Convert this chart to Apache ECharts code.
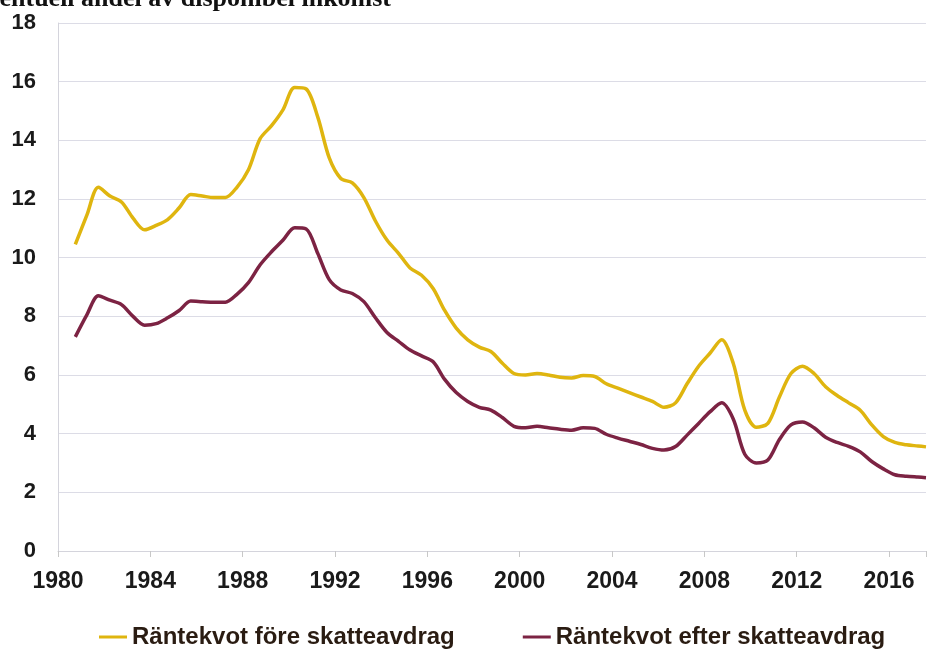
<!DOCTYPE html>
<html>
<head>
<meta charset="utf-8">
<title>Räntekvot</title>
<script src="https://cdn.jsdelivr.net/npm/echarts@6/dist/echarts.min.js"></script>
<style>
  html, body { margin: 0; padding: 0; background: #ffffff; }
  #chart { width: 929px; height: 649px; }
</style>
</head>
<body>
<div id="chart"></div>
<script>
// halvårsvärden
var years = [
  1980.75, 1981.25, 1981.75, 1982.25, 1982.75, 1983.25, 1983.75, 1984.25, 1984.75, 1985.25,
  1985.75, 1986.25, 1986.75, 1987.25, 1987.75, 1988.25, 1988.75, 1989.25, 1989.75, 1990.25,
  1990.75, 1991.25, 1991.75, 1992.25, 1992.75, 1993.25, 1993.75, 1994.25, 1994.75, 1995.25,
  1995.75, 1996.25, 1996.75, 1997.25, 1997.75, 1998.25, 1998.75, 1999.25, 1999.75, 2000.25,
  2000.75, 2001.25, 2001.75, 2002.25, 2002.75, 2003.25, 2003.75, 2004.25, 2004.75, 2005.25,
  2005.75, 2006.25, 2006.75, 2007.25, 2007.75, 2008.25, 2008.75, 2009.25, 2009.75, 2010.25,
  2010.75, 2011.25, 2011.75, 2012.25, 2012.75, 2013.25, 2013.75, 2014.25, 2014.75, 2015.25,
  2015.75, 2016.25, 2016.75, 2017.25, 2017.6
];
var foreSkatt = [
  10.45, 11.45, 12.4, 12.1, 11.9, 11.35, 10.95, 11.1, 11.3, 11.7,
  12.15, 12.1, 12.05, 12.05, 12.4, 13.0, 14.05, 14.5, 15.05, 15.8,
  15.75, 14.8, 13.4, 12.7, 12.55, 12.05, 11.25, 10.6, 10.15, 9.65,
  9.4, 8.95, 8.2, 7.6, 7.2, 6.95, 6.8, 6.4, 6.05, 6.0,
  6.05, 6.0, 5.92, 5.9, 5.98, 5.95, 5.7, 5.55, 5.4, 5.25,
  5.1, 4.9, 5.05, 5.7, 6.3, 6.75, 7.2, 6.4, 4.8, 4.22,
  4.35, 5.25, 6.05, 6.3, 6.05, 5.6, 5.3, 5.05, 4.8, 4.3,
  3.9, 3.7, 3.62, 3.58, 3.55
];
var efterSkatt = [
  7.3, 8.05, 8.7, 8.55, 8.4, 8.0, 7.7, 7.75, 7.95, 8.2,
  8.52, 8.5, 8.48, 8.48, 8.75, 9.15, 9.75, 10.2, 10.6, 11.02,
  10.98, 10.15, 9.25, 8.9, 8.78, 8.5, 7.95, 7.45, 7.15, 6.85,
  6.65, 6.45, 5.85, 5.4, 5.1, 4.9, 4.8, 4.55, 4.25, 4.2,
  4.25, 4.2, 4.15, 4.12, 4.2, 4.18, 3.98, 3.85, 3.74, 3.63,
  3.5, 3.44, 3.56, 3.95, 4.35, 4.75, 5.05, 4.5, 3.3, 3.0,
  3.1, 3.8, 4.3, 4.4, 4.2, 3.88, 3.7, 3.57, 3.38, 3.05,
  2.8, 2.6, 2.55, 2.52, 2.5
];
var seriesNames = ['Räntekvot före skatteavdrag', 'Räntekvot efter skatteavdrag'];
var yTicks = [0, 2, 4, 6, 8, 10, 12, 14, 16, 18];
var xTicks = [1980, 1984, 1988, 1992, 1996, 2000, 2004, 2008, 2012, 2016];

function pairs(xs, ys) {
  return xs.map(function (x, i) { return [x, ys[i]]; });
}

var chart = echarts.init(document.getElementById('chart'));
chart.setOption({
  backgroundColor: '#ffffff',
  animation: false,
  // rubriken är avklippt i originalet, bara nederkanten syns
  title: {
    text: 'Procentuell andel av disponibel inkomst',
    left: -57,
    top: -19,
    textStyle: {
      fontFamily: 'Liberation Serif',
      fontWeight: 'bold',
      fontSize: 26,
      color: '#111111'
    }
  },
  grid: {
    left: 58,
    right: 0,
    top: 23,
    bottom: 98
  },
  legend: {
    top: 620,
    left: 94,
    itemGap: 68,
    icon: 'rect',
    itemWidth: 28,
    itemHeight: 3,
    textStyle: {
      fontFamily: 'Liberation Sans',
      fontWeight: 'bold',
      fontSize: 24,
      color: '#2a1c12'
    },
    data: seriesNames
  },
  xAxis: {
    type: 'value',
    min: xTicks[0],
    max: 2017.6,
    interval: 4,
    axisLine: { show: true, lineStyle: { color: '#d4d4dc', width: 1 } },
    axisTick: { show: true, length: 6, lineStyle: { color: '#c8c8c8' } },
    splitLine: { show: false },
    axisLabel: {
      margin: 19,
      fontFamily: 'Liberation Sans',
      fontWeight: 'bold',
      fontSize: 23,
      color: '#1a1a1a',
      formatter: function (v) {
        return xTicks.indexOf(v) >= 0 ? String(v) : '';
      }
    }
  },
  yAxis: {
    type: 'value',
    min: yTicks[0],
    max: yTicks[yTicks.length - 1],
    interval: 2,
    axisLine: { show: true, lineStyle: { color: '#d4d4dc', width: 1 } },
    axisTick: { show: false },
    splitLine: { show: true, lineStyle: { color: '#dcdce6', width: 1 } },
    axisLabel: {
      margin: 22,
      fontFamily: 'Liberation Sans',
      fontWeight: 'bold',
      fontSize: 22,
      color: '#1a1a1a'
    }
  },
  series: [
    {
      name: seriesNames[0],
      type: 'line',
      smooth: 0.3,
      showSymbol: false,
      data: pairs(years, foreSkatt),
      itemStyle: { color: '#dfb50f' },
      lineStyle: { color: '#dfb50f', width: 3.5 }
    },
    {
      name: seriesNames[1],
      type: 'line',
      smooth: 0.3,
      showSymbol: false,
      data: pairs(years, efterSkatt),
      itemStyle: { color: '#7c2343' },
      lineStyle: { color: '#7c2343', width: 3.5 }
    }
  ]
});
</script>
</body>
</html>
